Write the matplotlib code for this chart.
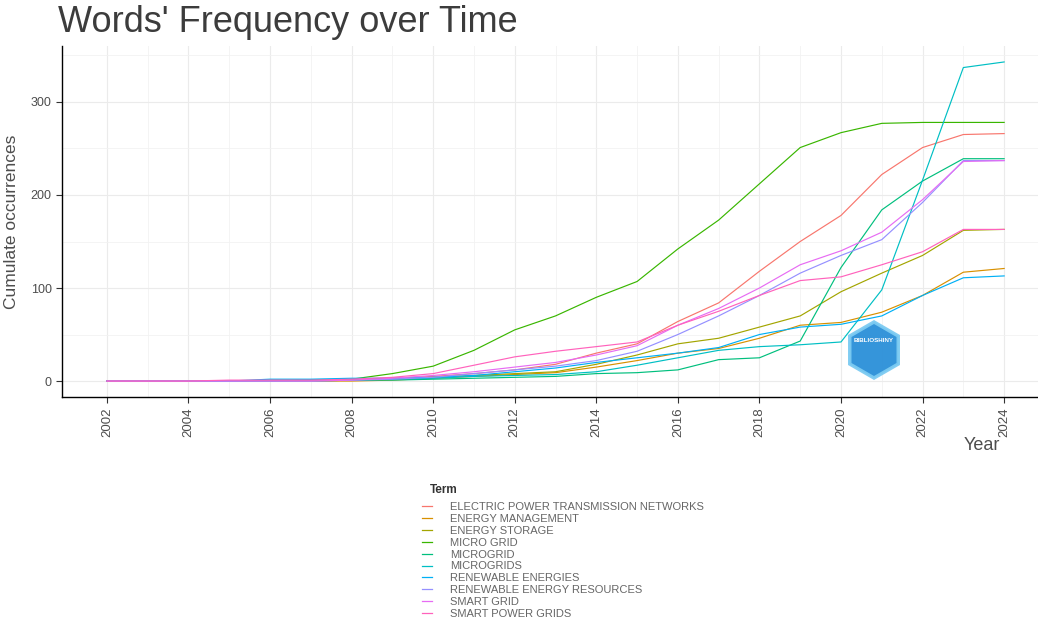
import matplotlib
matplotlib.use("Agg")
import matplotlib.pyplot as plt
from matplotlib.patches import RegularPolygon
from matplotlib.lines import Line2D
from matplotlib.transforms import IdentityTransform

plt.rcParams['font.family'] = ['Liberation Sans', 'DejaVu Sans']

years = list(range(2002, 2025))

terms = [
    "ELECTRIC POWER TRANSMISSION NETWORKS",
    "ENERGY MANAGEMENT",
    "ENERGY STORAGE",
    "MICRO GRID",
    "MICROGRID",
    "MICROGRIDS",
    "RENEWABLE ENERGIES",
    "RENEWABLE ENERGY RESOURCES",
    "SMART GRID",
    "SMART POWER GRIDS",
]

colors = ["#F8766D", "#D89000", "#A3A500", "#39B600", "#00BF7D",
          "#00BFC4", "#00B0F6", "#9590FF", "#E76BF3", "#FF62BC"]

#                2002 03 04 05 06 07 08 09 10 11  12  13  14  15  16  17   18   19   20   21   22   23   24
electric_power = [0, 0, 0, 0, 0, 0, 1, 3, 5, 8, 12, 18, 30, 40, 64, 84, 118, 150, 178, 222, 251, 265, 266]
energy_mgmt    = [0, 0, 0, 0, 0, 0, 0, 1, 3, 5, 7, 9, 15, 22, 30, 35, 46, 60, 63, 74, 92, 117, 121]
energy_storage = [0, 0, 0, 0, 0, 0, 1, 2, 4, 6, 8, 10, 18, 28, 40, 46, 58, 70, 96, 116, 135, 162, 163]
micro_grid     = [0, 0, 0, 0, 1, 1, 2, 8, 16, 33, 55, 70, 90, 107, 142, 173, 212, 251, 267, 277, 278, 278, 278]
microgrid      = [0, 0, 0, 0, 0, 1, 1, 1, 2, 3, 4, 5, 8, 9, 12, 23, 25, 43, 122, 184, 215, 239, 239]
microgrids     = [0, 0, 0, 0, 0, 0, 1, 2, 3, 5, 6, 7, 10, 17, 25, 33, 37, 39, 42, 98, 216, 337, 343]
renew_energies = [0, 0, 0, 0, 2, 2, 3, 3, 4, 6, 10, 14, 20, 25, 30, 36, 50, 58, 61, 70, 92, 111, 113]
renew_res      = [0, 0, 0, 0, 0, 0, 1, 2, 4, 8, 12, 16, 22, 32, 50, 70, 92, 116, 135, 152, 192, 237, 237]
smart_grid     = [0, 0, 0, 0, 0, 0, 1, 3, 6, 10, 15, 20, 28, 38, 60, 78, 100, 125, 140, 160, 195, 236, 237]
smart_power    = [0, 0, 0, 1, 1, 1, 2, 4, 8, 17, 26, 32, 37, 42, 60, 75, 92, 108, 112, 125, 139, 163, 163]

series = [electric_power, energy_mgmt, energy_storage, micro_grid, microgrid,
          microgrids, renew_energies, renew_res, smart_grid, smart_power]

x_ticks = list(range(2002, 2025, 2))
y_ticks = [0, 100, 200, 300]

W, H = 1038, 623
fig = plt.figure(figsize=(W / 100, H / 100), dpi=100)
ax = fig.add_axes([62 / W, 1 - 397 / H, (1049 - 62) / W, (397 - 46) / H])

for s, c in zip(series, colors):
    ax.plot(years, s, color=c, lw=0.85, solid_joinstyle='round')

ax.set_xlim(2002 - 1.1, 2024 + 1.1)
ax.set_ylim(-17.15, 360.15)
ax.set_xticks(x_ticks)
ax.set_xticks(range(2003, 2025, 2), minor=True)
ax.set_yticks(y_ticks)
ax.set_yticks([50, 150, 250, 350], minor=True)
ax.grid(which='major', color='#EBEBEB', lw=0.8)
ax.grid(which='minor', color='#F2F2F2', lw=0.6)
ax.set_axisbelow(True)
for sp in ['top', 'right']:
    ax.spines[sp].set_visible(False)
for sp in ['left', 'bottom']:
    ax.spines[sp].set_color('black')
    ax.spines[sp].set_linewidth(1.0)
ax.tick_params(axis='x', which='major', labelrotation=90, labelsize=9.5,
               labelcolor='#4D4D4D', color='#333333', length=4, width=0.8)
ax.tick_params(axis='y', which='major', labelsize=9, labelcolor='#4D4D4D',
               color='#333333', length=4, width=0.8)
ax.tick_params(which='minor', length=0)
ax.set_ylabel('Cumulate occurrences', fontsize=12.5, color='#4D4D4D')
ax.yaxis.set_label_coords((19 - 62) / (1049 - 62), (397 - 222) / (397 - 46))

fig.text(58 / W, 1 - 23 / H, "Words' Frequency over Time", fontsize=26,
         color='#3C3C3C', ha='left', va='center')
fig.text(1000 / W, 1 - 445 / H, 'Year', fontsize=13, color='#4D4D4D',
         ha='right', va='center')

# watermark logo (pixel coordinates)
hexa = RegularPolygon((874, H - 350), numVertices=6, radius=28,
                      orientation=0, transform=IdentityTransform(),
                      facecolor='#2A8FD8', edgecolor='#7CCBF2', lw=2.5,
                      alpha=0.95, zorder=5)
fig.patches.append(hexa)
fig.text(874 / W, 1 - 341 / H, 'BIBLIOSHINY', fontsize=4.5, color='white',
         ha='center', va='center', weight='bold', zorder=6)

# legend
fig.text(430 / W, 1 - 490 / H, 'Term', fontsize=8.5, weight='bold',
         color='#333333', ha='left', va='center')
handles = [Line2D([0], [0], color=c, lw=0.9) for c in colors]
leg = fig.legend(handles, terms, loc='upper left',
                 bbox_to_anchor=(422 / W, 1 - 502 / H), frameon=False,
                 fontsize=8, handlelength=0.9, handletextpad=1.6,
                 labelspacing=0.17, borderaxespad=0, borderpad=0)
for t in leg.get_texts():
    t.set_color('#666666')

fig.savefig('out.png', dpi=100)
